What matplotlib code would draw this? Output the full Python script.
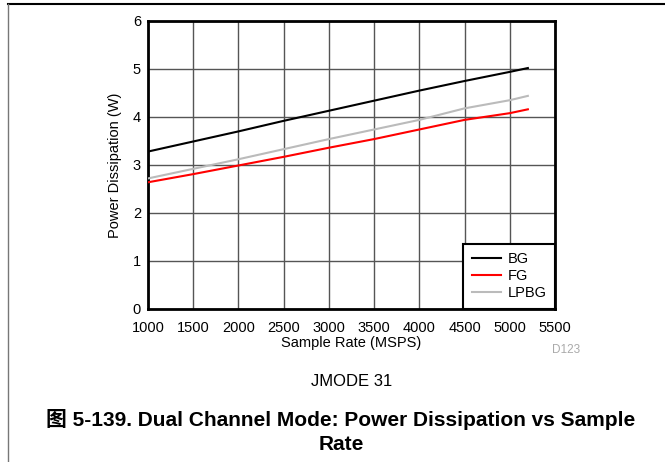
import numpy as np
import matplotlib
matplotlib.use('Agg')
import matplotlib.pyplot as plt
from matplotlib.lines import Line2D

plt.rcParams['font.family'] = ['Liberation Sans', 'Noto Sans CJK SC', 'DejaVu Sans']

# sample rate (MSPS) and power (W) for each gain mode
rate = [1000, 1500, 2000, 2500, 3000, 3500, 4000, 4500, 5000, 5200]
bg = [3.28, 3.49, 3.70, 3.92, 4.13, 4.34, 4.55, 4.75, 4.94, 5.02]
fg = [2.64, 2.81, 2.99, 3.17, 3.36, 3.54, 3.74, 3.94, 4.08, 4.16]
lpbg = [2.72, 2.92, 3.12, 3.33, 3.54, 3.74, 3.94, 4.18, 4.35, 4.44]

x_ticks = [1000, 1500, 2000, 2500, 3000, 3500, 4000, 4500, 5000, 5500]
y_ticks = [0, 1, 2, 3, 4, 5, 6]

fig = plt.figure(figsize=(6.65, 4.62), dpi=100)
ax = fig.add_axes([148/665, 1-309/462, (555-148)/665, (309-21)/462])

ax.plot(rate, bg, color='black', lw=1.5, label='BG', zorder=3)
ax.plot(rate, fg, color='#ff0000', lw=1.5, label='FG', zorder=3)
ax.plot(rate, lpbg, color='#bbbbbb', lw=1.5, label='LPBG', zorder=3)

ax.set_xlim(1000, 5500)
ax.set_ylim(0, 6)
ax.set_xticks(x_ticks)
ax.set_yticks(y_ticks)
ax.grid(True, color='#555555', lw=1.0)
ax.set_axisbelow(True)
ax.tick_params(length=0, labelsize=10.5)
ax.tick_params(axis='x', pad=9)
ax.tick_params(axis='y', pad=5)
for s in ax.spines.values():
    s.set_linewidth(2)
    s.set_color('black')

ax.set_xlabel('Sample Rate (MSPS)', fontsize=10.5, labelpad=0)
ax.set_ylabel('Power Dissipation (W)', fontsize=10.5, labelpad=8)

leg = ax.legend(loc='lower right', borderaxespad=0, fontsize=10.5, frameon=True,
                fancybox=False, handlelength=2.0, handletextpad=0.45,
                labelspacing=0.2, borderpad=0.6)
leg.get_frame().set_edgecolor('black')
leg.get_frame().set_linewidth(1.5)
leg.get_frame().set_alpha(1)

fig.text(566/665, 1-350/462, 'D123', fontsize=8.5, color='#aaaaaa',
         ha='center', va='center')
fig.text(352/665, 1-381/462, 'JMODE 31', fontsize=12, ha='center', va='center')
fig.text(341/665, 1-420/462, '图 5-139. Dual Channel Mode: Power Dissipation vs Sample',
         fontsize=15, fontweight='bold', ha='center', va='center')
fig.text(341/665, 1-444/462, 'Rate', fontsize=15, fontweight='bold',
         ha='center', va='center')

# page border: top rule and left rule
fig.add_artist(Line2D([8/665, 1], [1-4/462, 1-4/462], color='black', lw=1.5,
                      transform=fig.transFigure))
fig.add_artist(Line2D([8/665, 8/665], [0, 1-4/462], color='#777777', lw=1.0,
                      transform=fig.transFigure))

fig.savefig('out.png', dpi=100)
